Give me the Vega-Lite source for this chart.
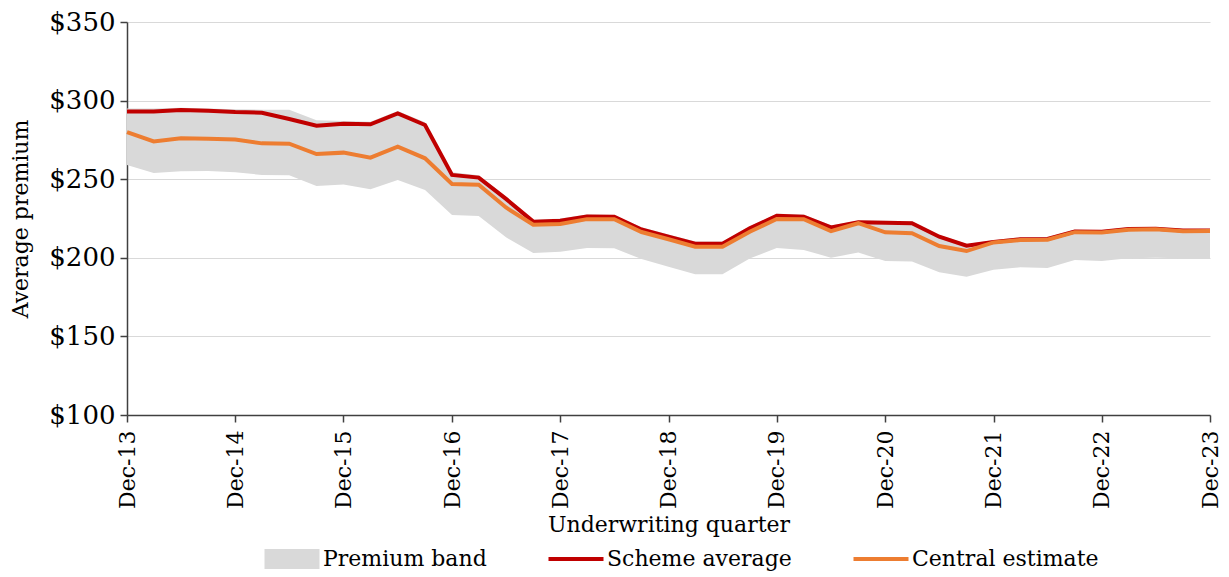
{
  "$schema": "https://vega.github.io/schema/vega-lite/v6.json",
  "width": 1083,
  "height": 393,
  "autosize": {"type": "none"},
  "padding": {"left": 127, "top": 22, "right": 19, "bottom": 162},
  "background": "white",
  "config": {
    "font": "DejaVu Serif",
    "view": {"stroke": null},
    "axis": {"labelFont": "DejaVu Serif", "titleFont": "DejaVu Serif", "labelFontSize": 22, "titleFontSize": 22, "labelColor": "#000", "titleColor": "#000", "titleFontWeight": "normal", "domainColor": "#404040", "tickColor": "#404040", "domainWidth": 1.5, "tickWidth": 1.5}
  },
  "data": {"values": [
    {"date": "2013-12-01", "scheme": 293, "central": 280, "low": 259, "high": 295},
    {"date": "2014-03-01", "scheme": 293, "central": 274, "low": 254, "high": 295},
    {"date": "2014-06-01", "scheme": 294, "central": 276, "low": 255, "high": 295.5},
    {"date": "2014-09-01", "scheme": 293.5, "central": 275.8, "low": 255.2, "high": 295},
    {"date": "2014-12-01", "scheme": 292.7, "central": 275.2, "low": 254.4, "high": 294.5},
    {"date": "2015-03-01", "scheme": 292.3, "central": 272.8, "low": 252.7, "high": 294.2},
    {"date": "2015-06-01", "scheme": 288.3, "central": 272.6, "low": 252.5, "high": 294.2},
    {"date": "2015-09-01", "scheme": 284, "central": 266, "low": 245.7, "high": 287.5},
    {"date": "2015-12-01", "scheme": 285.3, "central": 266.9, "low": 246.7, "high": 287},
    {"date": "2016-03-01", "scheme": 284.9, "central": 263.7, "low": 243.6, "high": 286.6},
    {"date": "2016-06-01", "scheme": 291.9, "central": 270.7, "low": 249.5, "high": 293.4},
    {"date": "2016-09-01", "scheme": 284.5, "central": 263.3, "low": 243.1, "high": 286.2},
    {"date": "2016-12-01", "scheme": 252.7, "central": 247, "low": 227.2, "high": 254.4},
    {"date": "2017-03-01", "scheme": 251, "central": 246.5, "low": 226.6, "high": 252.5},
    {"date": "2017-06-01", "scheme": 237.5, "central": 232, "low": 213, "high": 239},
    {"date": "2017-09-01", "scheme": 223, "central": 221, "low": 203, "high": 224},
    {"date": "2017-12-01", "scheme": 223.6, "central": 221.5, "low": 203.9, "high": 225},
    {"date": "2018-03-01", "scheme": 226.3, "central": 224.6, "low": 206.2, "high": 227.5},
    {"date": "2018-06-01", "scheme": 226.1, "central": 224.5, "low": 206, "high": 227.3},
    {"date": "2018-09-01", "scheme": 218, "central": 216.4, "low": 199.2, "high": 219.5},
    {"date": "2018-12-01", "scheme": 213.4, "central": 211.8, "low": 194.3, "high": 214.8},
    {"date": "2019-03-01", "scheme": 209, "central": 207, "low": 189.6, "high": 210.3},
    {"date": "2019-06-01", "scheme": 209, "central": 207, "low": 189.6, "high": 210.3},
    {"date": "2019-09-01", "scheme": 218.7, "central": 216.6, "low": 199.5, "high": 220},
    {"date": "2019-12-01", "scheme": 226.8, "central": 224.7, "low": 206.3, "high": 228},
    {"date": "2020-03-01", "scheme": 226.2, "central": 224.5, "low": 205, "high": 227.5},
    {"date": "2020-06-01", "scheme": 219.3, "central": 217, "low": 200.1, "high": 220.6},
    {"date": "2020-09-01", "scheme": 222.6, "central": 222, "low": 203.3, "high": 223.8},
    {"date": "2020-12-01", "scheme": 222.3, "central": 216.2, "low": 198, "high": 223.5},
    {"date": "2021-03-01", "scheme": 222, "central": 215.6, "low": 197.6, "high": 223.2},
    {"date": "2021-06-01", "scheme": 213.4, "central": 207.5, "low": 190.8, "high": 214.6},
    {"date": "2021-09-01", "scheme": 207.7, "central": 204.3, "low": 188, "high": 208.8},
    {"date": "2021-12-01", "scheme": 210, "central": 209.8, "low": 192.4, "high": 211.2},
    {"date": "2022-03-01", "scheme": 211.8, "central": 211.3, "low": 194, "high": 213},
    {"date": "2022-06-01", "scheme": 212, "central": 211.5, "low": 193.5, "high": 213.2},
    {"date": "2022-09-01", "scheme": 216.7, "central": 216.3, "low": 198.6, "high": 217.8},
    {"date": "2022-12-01", "scheme": 216.5, "central": 216.1, "low": 198, "high": 217.6},
    {"date": "2023-03-01", "scheme": 218.3, "central": 217.9, "low": 199.7, "high": 219.4},
    {"date": "2023-06-01", "scheme": 218.5, "central": 218.1, "low": 200.1, "high": 219.6},
    {"date": "2023-09-01", "scheme": 217.3, "central": 216.9, "low": 199.7, "high": 218.4},
    {"date": "2023-12-01", "scheme": 217.4, "central": 217.1, "low": 199.7, "high": 218.5}
  ]},
  "encoding": {
    "x": {
      "field": "date", "type": "temporal",
      "scale": {"type": "utc", "domain": [{"year": 2013, "month": 12, "date": 1, "utc": true}, {"year": 2023, "month": 12, "date": 1, "utc": true}]},
      "axis": {
        "title": "Underwriting quarter",
        "labelExpr": "utcFormat(datum.value, '%b-%y')",
        "labelAngle": -90, "labelAlign": "right", "labelBaseline": "middle",
        "tickSize": 7, "labelPadding": 8, "titlePadding": 6, "grid": false,
        "labelFlush": false, "labelOverlap": false,
        "values": [
          {"year": 2013, "month": 12, "date": 1, "utc": true},
          {"year": 2014, "month": 12, "date": 1, "utc": true},
          {"year": 2015, "month": 12, "date": 1, "utc": true},
          {"year": 2016, "month": 12, "date": 1, "utc": true},
          {"year": 2017, "month": 12, "date": 1, "utc": true},
          {"year": 2018, "month": 12, "date": 1, "utc": true},
          {"year": 2019, "month": 12, "date": 1, "utc": true},
          {"year": 2020, "month": 12, "date": 1, "utc": true},
          {"year": 2021, "month": 12, "date": 1, "utc": true},
          {"year": 2022, "month": 12, "date": 1, "utc": true},
          {"year": 2023, "month": 12, "date": 1, "utc": true}
        ]
      }
    }
  },
  "layer": [
    {
      "mark": {"type": "area", "color": "#d9d9d9", "opacity": 1},
      "encoding": {
        "y": {
          "field": "low", "type": "quantitative",
          "scale": {"domain": [100, 350], "nice": false, "zero": false},
          "axis": {
            "title": "Average premium", "values": [100, 150, 200, 250, 300, 350],
            "format": "$.0f", "tickSize": 7, "labelPadding": 5, "titlePadding": 16,
            "labelFontSize": 26,
            "grid": true, "gridColor": "#d9d9d9", "gridWidth": 1
          }
        },
        "y2": {"field": "high"}
      }
    },
    {
      "transform": [{"fold": ["scheme", "central"], "as": ["key", "value"]},
                    {"lookup": "key", "from": {"data": {"values": [{"key": "scheme", "series": "Scheme average"}, {"key": "central", "series": "Central estimate"}]}, "key": "key", "fields": ["series"]}}],
      "mark": {"type": "line", "strokeWidth": 4},
      "encoding": {
        "y": {"field": "value", "type": "quantitative"},
        "color": {
          "field": "series", "type": "nominal",
          "scale": {"domain": ["Premium band", "Scheme average", "Central estimate"], "range": ["#d9d9d9", "#c00000", "#ed7d31"]},
          "legend": {
            "title": null, "orient": "none", "legendX": 154, "legendY": 526, "direction": "horizontal",
            "symbolType": "stroke", "symbolSize": 3025, "symbolStrokeWidth": 4,
            "labelFontSize": 22, "labelFont": "DejaVu Serif", "labelColor": "#000", "labelOffset": 20,
            "columnPadding": 53, "labelLimit": 400,
            "encode": {
              "symbols": {
                "update": {
                  "shape": {"signal": "datum.value === 'Premium band' ? 'M-1,-0.36H1V0.36H-1Z' : 'stroke'"},
                  "fill": {"signal": "datum.value === 'Premium band' ? '#d9d9d9' : 'transparent'"},
                  "strokeWidth": {"signal": "datum.value === 'Premium band' ? 0 : 4"}
                }
              }
            }
          }
        },
        "order": {"field": "date"}
      }
    }
  ]
}
